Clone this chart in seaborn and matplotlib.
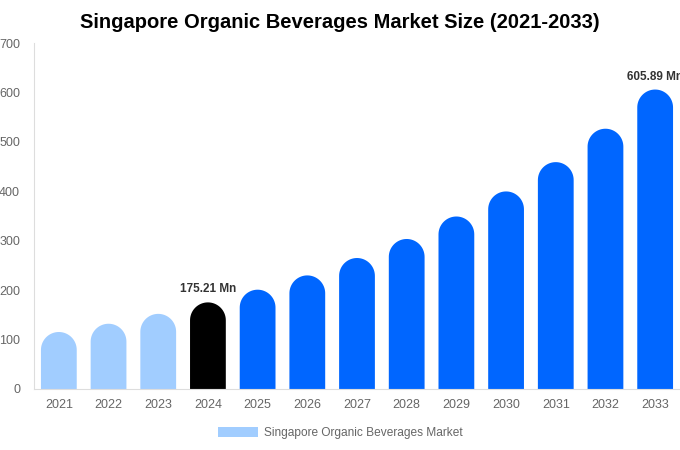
import numpy as np
import pandas as pd
import matplotlib
matplotlib.use("Agg")
import matplotlib.pyplot as plt
import seaborn as sns
from matplotlib.patches import Polygon, Patch

# Data
years = ["2021", "2022", "2023", "2024", "2025", "2026", "2027",
         "2028", "2029", "2030", "2031", "2032", "2033"]
market_size = [115.3, 132.0, 152.0, 175.21, 200.9, 229.8, 265.0,
               303.5, 349.0, 399.7, 459.0, 526.6, 605.89]
bar_colors = ["#a1cdff"] * 3 + ["#000000"] + ["#0066ff"] * 9
labels = {"2024": "175.21 Mn", "2033": "605.89 Mn"}

df = pd.DataFrame({"Year": years, "Size": market_size})

sns.set_style("white")
plt.rcParams["font.family"] = ["Liberation Sans", "DejaVu Sans"]

fig = plt.figure(figsize=(6.8, 4.5), dpi=100)
ax = fig.add_axes([0.05, 0.1356, 0.95, 0.7688])

sns.barplot(data=df, x="Year", y="Size", hue="Year", palette=bar_colors,
            saturation=1, width=0.72, legend=False, ax=ax)
ax.set_ylim(0, 700)
ax.set_xlim(-0.5, len(years) - 0.5)

# rounded tops: replace each rectangle with a bar capped by a semicircle
fig.canvas.draw()
bbox = ax.get_window_extent()
x_per_px = len(years) / bbox.width
y_per_px = 700 / bbox.height
t = np.linspace(0, np.pi, 40)
for p in list(ax.patches):
    x, w, h = p.get_x(), p.get_width(), p.get_height()
    color = p.get_facecolor()
    p.remove()
    rx = w / 2
    ry = rx / x_per_px * y_per_px
    cx = x + rx
    cap = np.column_stack([cx + rx * np.cos(t), h - ry + ry * np.sin(t)])
    pts = np.vstack([[x + w, 0], cap, [x, 0]])
    ax.add_patch(Polygon(pts, closed=True, facecolor=color,
                         edgecolor="none"))

for i, yr in enumerate(years):
    if yr in labels:
        ax.text(i, market_size[i] + 14, labels[yr], ha="center", va="bottom",
                fontsize=8.5, fontweight="bold", color="#333333", clip_on=False)

ax.set_xlabel("")
ax.set_ylabel("")
ax.set_yticks(range(0, 701, 100))
ax.tick_params(axis="both", labelsize=9, colors="#666666", length=0)
ax.tick_params(axis="y", pad=10)
ax.tick_params(axis="x", pad=7)
for s in ["top", "right"]:
    ax.spines[s].set_visible(False)
for s in ["left", "bottom"]:
    ax.spines[s].set_color("#dddddd")
    ax.spines[s].set_linewidth(0.8)

fig.suptitle("Singapore Organic Beverages Market Size (2021-2033)",
             x=0.5, y=0.972, fontsize=14.5, fontweight="bold", color="#000000")

fig.legend(handles=[Patch(facecolor="#a1cdff", edgecolor="none",
                          label="Singapore Organic Beverages Market")],
           loc="center", bbox_to_anchor=(0.5, 0.038), frameon=False,
           fontsize=8.6, labelcolor="#666666", handlelength=3.35,
           handleheight=1.0, handletextpad=0.5)

fig.savefig("out.png", dpi=100)
